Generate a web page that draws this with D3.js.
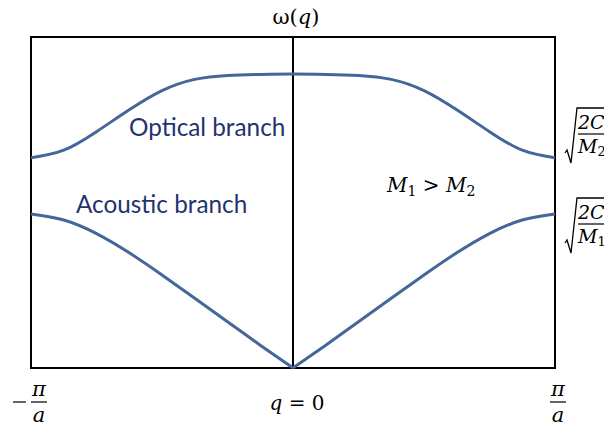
<!DOCTYPE html>
<html><head><meta charset="utf-8">
<script src="https://cdn.jsdelivr.net/npm/d3@7"></script>
<style>html,body{margin:0;padding:0;background:#fff;}svg{display:block;}</style>
</head><body>
<svg id="c" width="604" height="427"></svg>
<script>
// Wavevector (in units of pi/a) and frequencies (relative to box height)
const qLeft = [-1, -0.875, -0.75, -0.625, -0.5, -0.375, -0.25, -0.125, 0];
const opticalLeft = [0.635, 0.658, 0.714, 0.780, 0.838, 0.872, 0.884, 0.887, 0.888];
const acousticLeft = [0.465, 0.447, 0.406, 0.348, 0.281, 0.211, 0.140, 0.069, 0];
const qRight = qLeft.map(v => -v).reverse();
const opticalRight = opticalLeft.slice().reverse();
const acousticRight = acousticLeft.slice().reverse();
const branchLabels = ["Optical branch", "Acoustic branch"];

const svg = d3.select("#c");
const x = d3.scaleLinear().domain([-1, 1]).range([31, 555]);
const y = d3.scaleLinear().domain([0, 1]).range([368, 37]);
const curveColor = "#44679a", textColor = "#1f3470";
const serif = "'DejaVu Serif','Liberation Serif',serif";

// frame
svg.append("rect").attr("x", x(-1)).attr("y", y(1)).attr("width", x(1) - x(-1)).attr("height", y(0) - y(1))
  .attr("fill", "none").attr("stroke", "#000").attr("stroke-width", 2);
svg.append("line").attr("x1", x(0)).attr("x2", x(0)).attr("y1", y(1)).attr("y2", y(0))
  .attr("stroke", "#000").attr("stroke-width", 2);

const line = d3.line().x(d => x(d[0])).y(d => y(d[1])).curve(d3.curveNatural);
const optical = qLeft.map((q, i) => [q, opticalLeft[i]]).concat(qRight.slice(1).map((q, i) => [q, opticalRight[i + 1]]));
const acL = qLeft.map((q, i) => [q, acousticLeft[i]]);
const acR = qRight.map((q, i) => [q, acousticRight[i]]);
[optical, acL, acR].forEach(d => svg.append("path").attr("d", line(d)).attr("fill", "none")
  .attr("stroke", curveColor).attr("stroke-width", 3));

// branch labels
svg.append("text").attr("x", 129).attr("y", 136).attr("font-family", "Lato,'Open Sans',sans-serif")
  .attr("font-size", 24.3).attr("fill", textColor).text(branchLabels[0]);
svg.append("text").attr("x", 76).attr("y", 213).attr("font-family", "Lato,'Open Sans',sans-serif")
  .attr("font-size", 24.3).attr("fill", textColor).text(branchLabels[1]);

// omega(q) title
const t = svg.append("text").attr("x", x(0) + 3).attr("y", 24).attr("text-anchor", "middle")
  .attr("font-family", serif).attr("font-size", 21);
t.append("tspan").text("ω(");
t.append("tspan").attr("font-style", "italic").text("q");
t.append("tspan").text(")");

// M1 > M2
const m = svg.append("text").attr("x", 387).attr("y", 192).attr("font-family", serif).attr("font-size", 20);
m.append("tspan").attr("font-style", "italic").text("M");
m.append("tspan").attr("font-size", 14).attr("dy", 4).text("1");
m.append("tspan").attr("dy", -4).text(" > ");
m.append("tspan").attr("font-style", "italic").text("M");
m.append("tspan").attr("font-size", 14).attr("dy", 4).text("2");

// bottom labels
function frac(cx, top, num, den) {
  svg.append("text").attr("x", cx).attr("y", top + 16).attr("text-anchor", "middle")
    .attr("font-family", serif).attr("font-style", "italic").attr("font-size", 21).text(num);
  svg.append("line").attr("x1", cx - 8).attr("x2", cx + 8).attr("y1", top + 22).attr("y2", top + 22)
    .attr("stroke", "#000").attr("stroke-width", 1.2);
  svg.append("text").attr("x", cx).attr("y", top + 42).attr("text-anchor", "middle")
    .attr("font-family", serif).attr("font-style", "italic").attr("font-size", 21).text(den);
}
svg.append("line").attr("x1", 13).attr("x2", 26).attr("y1", 402).attr("y2", 402).attr("stroke", "#000").attr("stroke-width", 1.2);
frac(39, 380, "π", "a");
frac(558, 380, "π", "a");
const q0 = svg.append("text").attr("x", x(0) + 4).attr("y", 410).attr("text-anchor", "middle")
  .attr("font-family", serif).attr("font-size", 20);
q0.append("tspan").attr("font-style", "italic").text("q");
q0.append("tspan").text(" = 0");

// radicals on the right
function radical(top, bar, bottom, sub) {
  svg.append("path").attr("d", `M565,${bottom - 10} L567,${bottom - 13} L571,${bottom} L577,${top} L610,${top}`)
    .attr("fill", "none").attr("stroke", "#000").attr("stroke-width", 1.3);
  svg.append("line").attr("x1", 578).attr("x2", 610).attr("y1", bar).attr("y2", bar)
    .attr("stroke", "#000").attr("stroke-width", 1.2);
  svg.append("text").attr("x", 578).attr("y", bar - 5).attr("font-family", serif)
    .attr("font-style", "italic").attr("font-size", 19).text("2C");
  const d = svg.append("text").attr("x", 578).attr("y", bar + 19).attr("font-family", serif).attr("font-size", 19);
  d.append("tspan").attr("font-style", "italic").text("M");
  d.append("tspan").attr("font-size", 13).attr("dy", 3).text(sub);
}
radical(108, 134, 163, "2");
radical(198, 224, 253, "1");
</script>
</body></html>
